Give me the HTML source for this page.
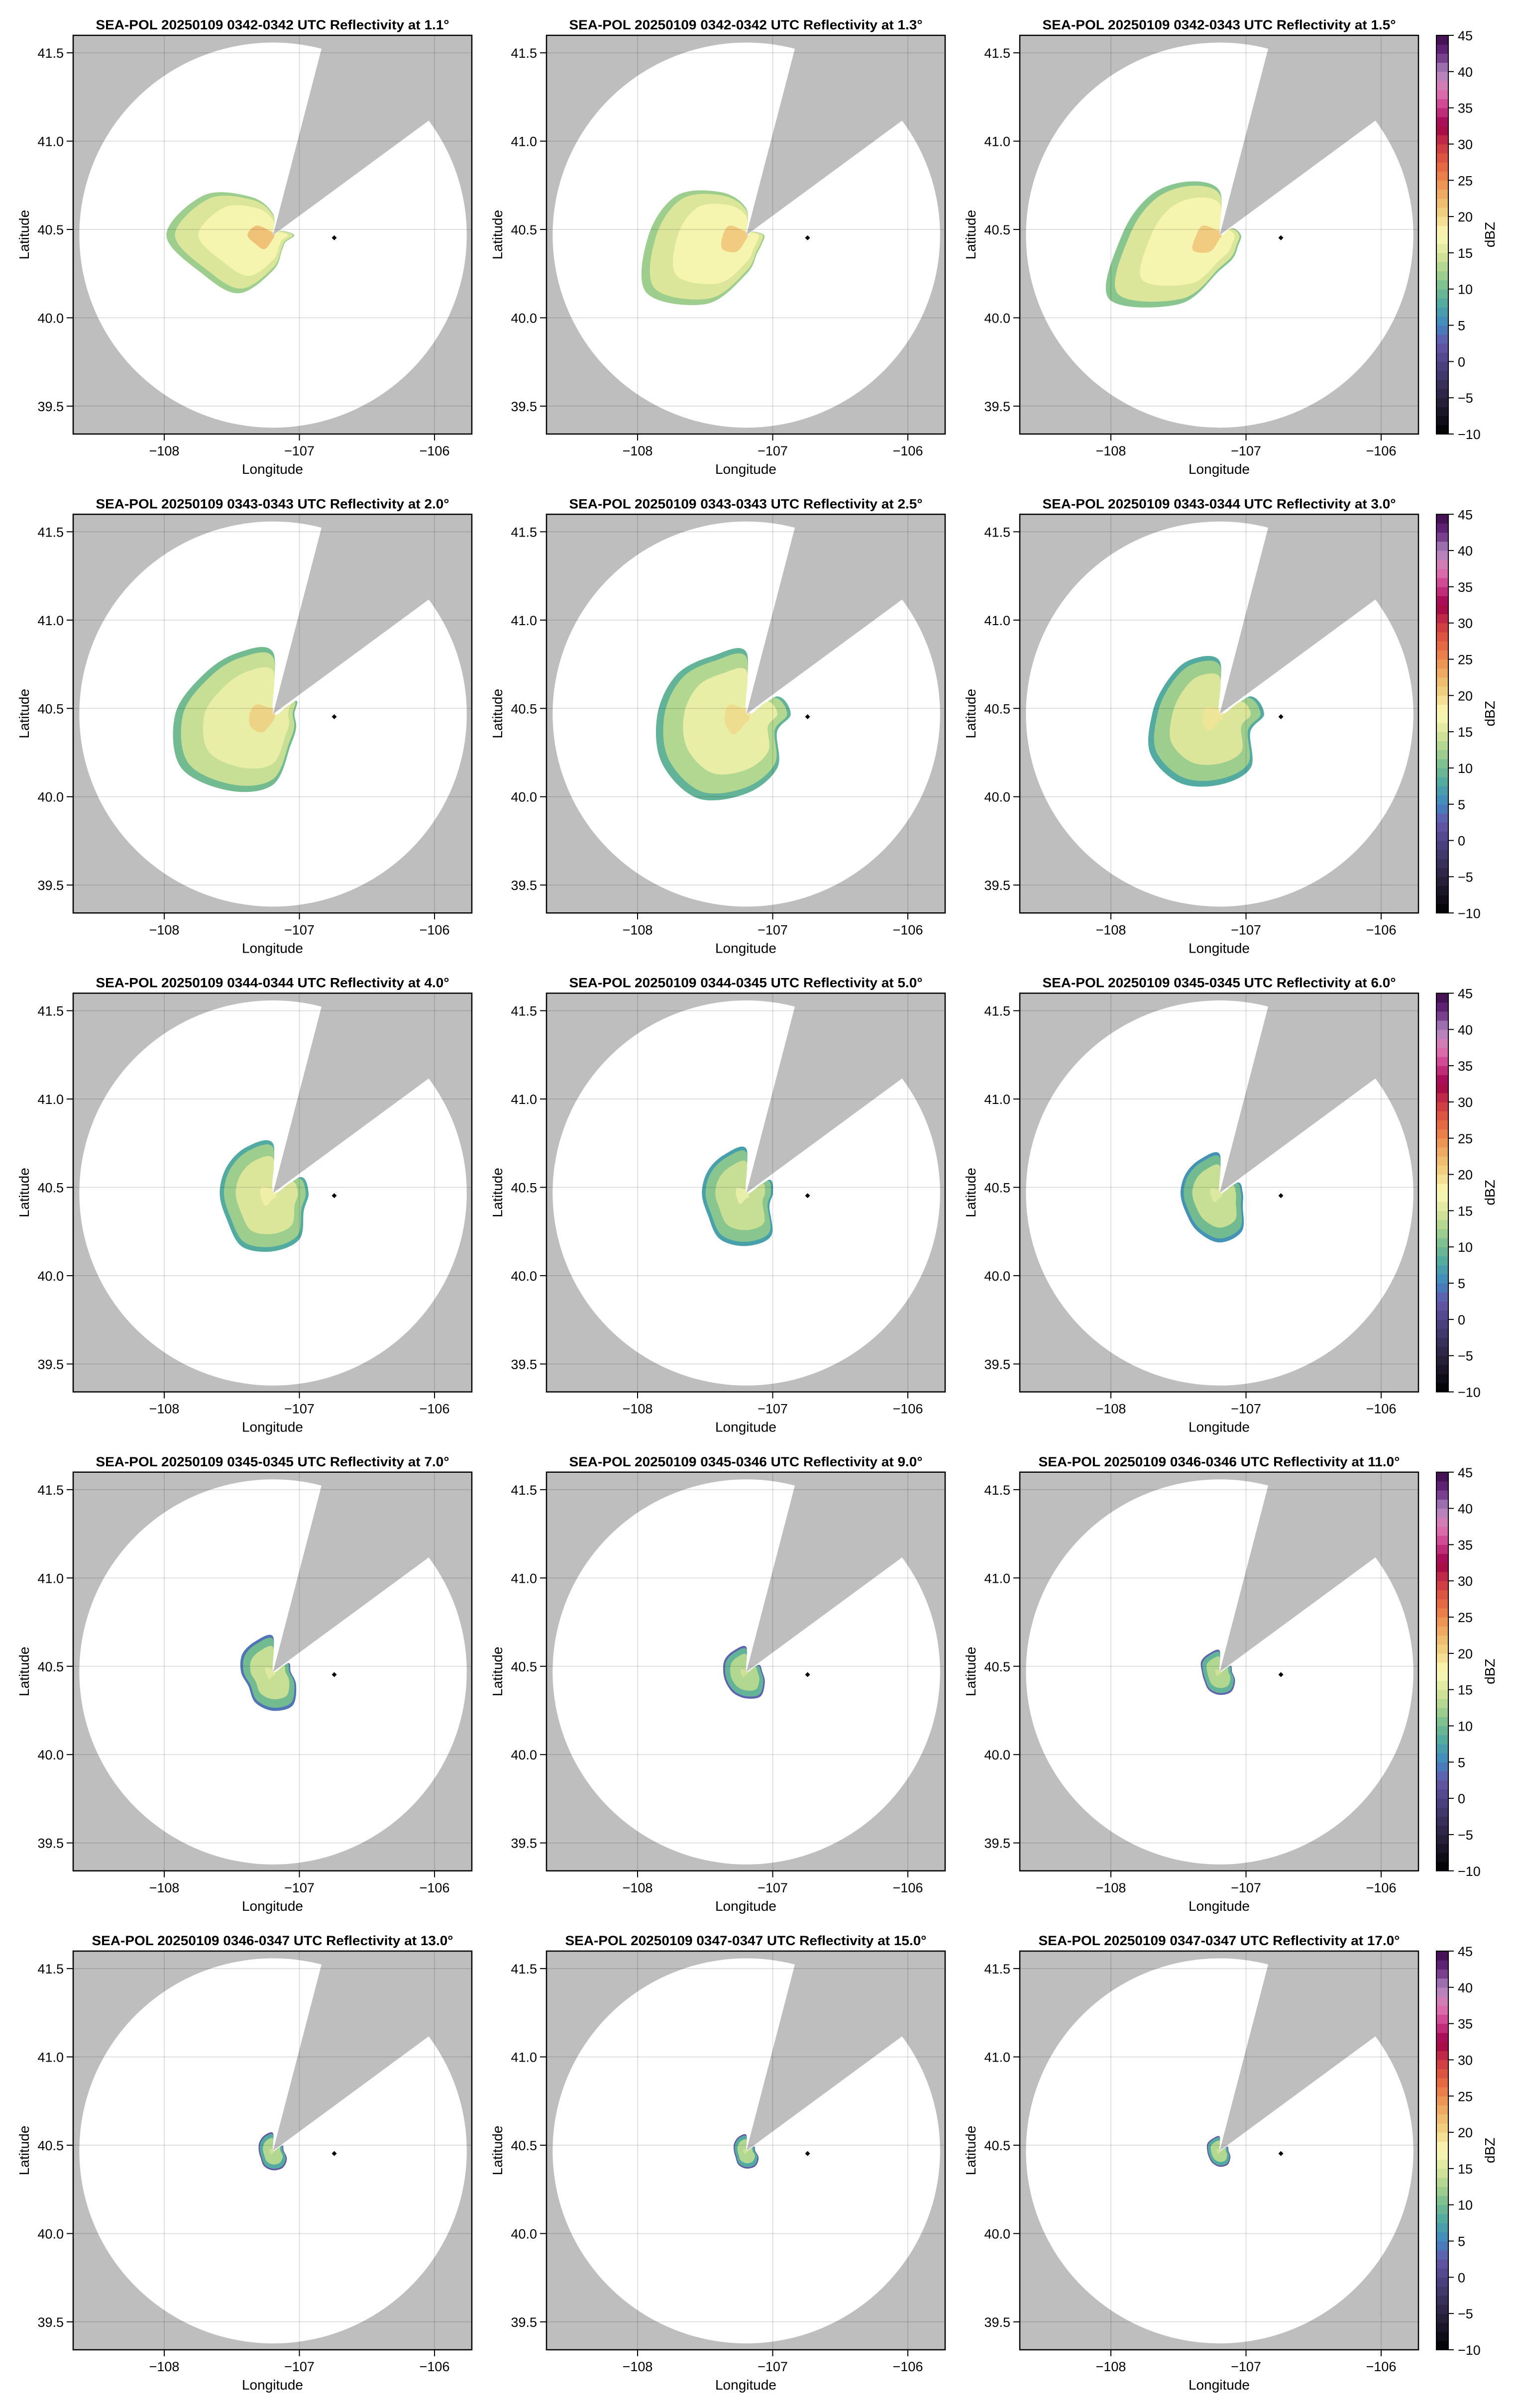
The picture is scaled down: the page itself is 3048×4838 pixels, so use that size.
<!DOCTYPE html>
<html><head><meta charset="utf-8"><title>SEA-POL reflectivity panels</title>
<style>
html,body{margin:0;padding:0;background:#fff;}
svg{display:block;font-family:"Liberation Sans",sans-serif;}
</style></head>
<body>
<svg id="fig" xmlns="http://www.w3.org/2000/svg" width="3048" height="4838" viewBox="0 0 3048 4838"></svg>
<script>
// ---- data ----
const elevations = ["1.1","1.3","1.5","2.0","2.5","3.0","4.0","5.0","6.0","7.0","9.0","11.0","13.0","15.0","17.0"];
const timeRanges = ["0342-0342","0342-0342","0342-0343","0343-0343","0343-0343","0343-0344","0344-0344","0344-0345","0345-0345","0345-0345","0345-0346","0346-0346","0346-0347","0347-0347","0347-0347"];
const echoAzimuths = [0,30,60,90,120,150,180,210,240,270,300,330];
const echoRadii = [
 [0.12,0,0.05,0.12,0.08,0.10,0.20,0.38,0.45,0.60,0.45,0.25],
 [0.15,0,0.04,0.10,0.10,0.12,0.22,0.45,0.65,0.55,0.45,0.28],
 [0.25,0,0.08,0.12,0.12,0.15,0.20,0.45,0.72,0.55,0.45,0.35],
 [0.35,0,0.15,0.12,0.15,0.20,0.40,0.50,0.60,0.55,0.45,0.40],
 [0.35,0,0.20,0.25,0.20,0.35,0.45,0.55,0.55,0.50,0.45,0.38],
 [0.30,0,0.20,0.25,0.20,0.35,0.40,0.45,0.45,0.38,0.35,0.35],
 [0.28,0,0.18,0.20,0.20,0.30,0.33,0.35,0.30,0.30,0.30,0.30],
 [0.25,0,0.15,0.15,0.15,0.28,0.30,0.30,0.25,0.25,0.25,0.25],
 [0.22,0,0.12,0.13,0.15,0.25,0.28,0.25,0.22,0.22,0.22,0.22],
 [0.20,0,0.10,0.10,0.15,0.22,0.22,0.20,0.16,0.18,0.20,0.20],
 [0.14,0,0.08,0.09,0.12,0.16,0.15,0.14,0.13,0.13,0.14,0.14],
 [0.12,0,0.07,0.07,0.10,0.13,0.13,0.12,0.10,0.10,0.12,0.12],
 [0.10,0,0.06,0.06,0.09,0.11,0.11,0.10,0.08,0.08,0.09,0.10],
 [0.09,0,0.05,0.05,0.08,0.10,0.10,0.09,0.07,0.07,0.08,0.09],
 [0.08,0,0.05,0.05,0.07,0.09,0.09,0.08,0.07,0.07,0.08,0.08]
];
const edgeDbz = [12,12,11,10,9,8,8,7,6,4,3,3,2,2,2];
const midDbz  = [15,15,15,14,13,12,12,11,10,10,9,9,8,8,8];
const coreDbz = [17,17,17,16,16,15,15,14,14,14,13,13,13,13,13];
const hotDbz  = [23,22,22,21,20,19,18,17,16,16,15,15,15,15,15];
const xTicks = [-108,-107,-106];
const yTicks = [39.5,40.0,40.5,41.0,41.5];
const cbTicks = [-10,-5,0,5,10,15,20,25,30,35,40,45];
const radarLon = -107.195, radarLat = 40.468;
const radarRangeDeg = 1.09;
const blockStartAz = 14.5, blockEndAz = 53.5;
const markerLon = -106.742, markerLat = 40.453;
const cmapStops = [[-10,"#000000"],[-5,"#2a2340"],[0,"#4f4488"],[2.5,"#6558aa"],[5,"#4086c2"],[7.5,"#4aa6a4"],[10,"#72bb90"],[12.5,"#a8d38e"],[15,"#dbe69a"],[17.5,"#fbf9b6"],[20,"#f2d686"],[22.5,"#eeb466"],[25,"#ec8a4c"],[27.5,"#e25e3e"],[30,"#cc3444"],[32.5,"#a0004a"],[35,"#cc3a8a"],[37.5,"#e07ab4"],[40,"#ad85c0"],[42.5,"#6a2880"],[45,"#3c0a4c"]];
// ---- layout ----
const NS="http://www.w3.org/2000/svg";
const svg=document.getElementById('fig');
const colLeft=[147,1098,2049], plotW=801, plotH=801, rowTop0=71, rowPitch=962.25;
const lonMin=-108.674, lonMax=-105.724, latMin=39.342, latMax=41.599;
const cosLat=0.7604;
function el(tag,attrs,parent){const e=document.createElementNS(NS,tag);for(const k in attrs)e.setAttribute(k,attrs[k]);(parent||svg).appendChild(e);return e;}
function hex2rgb(h){return[parseInt(h.substr(1,2),16),parseInt(h.substr(3,2),16),parseInt(h.substr(5,2),16)];}
function cmap(v){v=Math.max(-10,Math.min(45,v));for(let i=0;i<cmapStops.length-1;i++){const a=cmapStops[i],b=cmapStops[i+1];if(v<=b[0]){const t=(v-a[0])/(b[0]-a[0]);const ca=hex2rgb(a[1]),cb=hex2rgb(b[1]);return 'rgb('+ca.map((c,j)=>Math.round(c+(cb[j]-c)*t)).join(',')+')';}}return cmapStops[cmapStops.length-1][1];}
function smoothPath(pts){let d='';const n=pts.length;for(let i=0;i<n;i++){const p0=pts[(i-1+n)%n],p1=pts[i],p2=pts[(i+1)%n],p3=pts[(i+2)%n];if(i===0)d+='M'+p1[0].toFixed(1)+','+p1[1].toFixed(1);const c1=[p1[0]+(p2[0]-p0[0])/6,p1[1]+(p2[1]-p0[1])/6],c2=[p2[0]-(p3[0]-p1[0])/6,p2[1]-(p3[1]-p1[1])/6];d+='C'+c1[0].toFixed(1)+','+c1[1].toFixed(1)+' '+c2[0].toFixed(1)+','+c2[1].toFixed(1)+' '+p2[0].toFixed(1)+','+p2[1].toFixed(1);}return d+'Z';}
const defs=el('defs',{});
for(let p=0;p<15;p++){
  const row=Math.floor(p/3), col=p%3;
  const L=colLeft[col], T=rowTop0+row*rowPitch;
  const xS=lon=>L+(lon-lonMin)/(lonMax-lonMin)*plotW;
  const yS=lat=>T+(latMax-lat)/(latMax-latMin)*plotH;
  const polar=(az,r)=>{const a=az*Math.PI/180;return[xS(radarLon+r*Math.sin(a)/cosLat),yS(radarLat+r*Math.cos(a))];};
  const g=el('g',{});
  
  
  const cp=el('clipPath',{id:'clip'+p},defs);el('rect',{x:L,y:T,width:plotW,height:plotH},cp);
  const bg=el('rect',{x:L,y:T,width:plotW,height:plotH,fill:'#bebebe'},g);
  
  const inner=el('g',{'clip-path':'url(#clip'+p+')'},g);
  const cx=xS(radarLon), cy=yS(radarLat);
  const cov=el('ellipse',{cx:cx,cy:cy,rx:xS(radarLon+radarRangeDeg/cosLat)-cx,ry:cy-yS(radarLat+radarRangeDeg),fill:'#fff'},inner);
  
  // echoes
  const layers=[[1.0,edgeDbz[p]],[0.92,midDbz[p]],[0.7,coreDbz[p]],[0.2,hotDbz[p]]];
  layers.forEach((ly,k)=>{
    const pts=echoAzimuths.map((az,i)=>polar(az,echoRadii[p][i]*ly[0]*(k===3?(i>=7&&i<=10?1.2:0.5):1)));
    const e=el('path',{d:smoothPath(pts),fill:cmap(ly[1]),opacity:k===3?0.7:1},inner);
    
  });
  // blocked sector
  const w1=polar(blockStartAz,3),w2=polar(blockEndAz,3);
  const wedge=el('polygon',{points:cx+','+cy+' '+w1[0]+','+w1[1]+' '+w2[0]+','+w2[1],fill:'#bebebe'},inner);
  
  // grid
  xTicks.forEach(v=>{const gl=el('line',{x1:xS(v),x2:xS(v),y1:T,y2:T+plotH,stroke:'rgba(0,0,0,0.12)','stroke-width':2},inner);});
  yTicks.forEach(v=>{const gl=el('line',{x1:L,x2:L+plotW,y1:yS(v),y2:yS(v),stroke:'rgba(0,0,0,0.12)','stroke-width':2},inner);});
  const mk=el('polygon',{points:[[0,-5],[5,0],[0,5],[-5,0]].map(q=>(xS(markerLon)+q[0])+','+(yS(markerLat)+q[1])).join(' '),fill:'#000'},inner);
  
  const fr=el('rect',{x:L,y:T,width:plotW,height:plotH,fill:'none',stroke:'#000','stroke-width':2.5},g);
  
  // ticks
  xTicks.forEach(v=>{el('line',{x1:xS(v),x2:xS(v),y1:T+plotH,y2:T+plotH+13,stroke:'#000','stroke-width':2},g);
    const t=el('text',{x:xS(v),y:T+plotH+43,'font-size':27,'text-anchor':'middle'},g);t.textContent='\u2212'+Math.abs(v);
    });
  yTicks.forEach(v=>{el('line',{x1:L-13,x2:L,y1:yS(v),y2:yS(v),stroke:'#000','stroke-width':2},g);
    const t=el('text',{x:L-19,y:yS(v)+10,'font-size':27,'text-anchor':'end'},g);t.textContent=v.toFixed(1);
    });
  const xl=el('text',{x:L+plotW/2,y:T+plotH+80,'font-size':28,'text-anchor':'middle'},g);xl.textContent='Longitude';
  
  const yl=el('text',{x:0,y:0,'font-size':28,'text-anchor':'middle',transform:'translate('+(L-89)+','+(T+plotH/2)+') rotate(-90)'},g);yl.textContent='Latitude';
  
  const ti=el('text',{x:L+plotW/2,y:T-12,'font-size':27,'font-weight':'bold','text-anchor':'middle',textLength:(elevations[p].length>3?726:710),lengthAdjust:'spacingAndGlyphs'},g);
  ti.textContent='SEA-POL 20250109 '+timeRanges[p]+' UTC Reflectivity at '+elevations[p]+'\u00b0';
  
  // colorbar
  if(col===2){
    const cb=el('g',{},g);
    const cbx=2886,cbw=24,n=44;
    for(let i=0;i<n;i++){const v=-10+(i+0.5)*55/n;const y0=T+plotH-(i+1)*plotH/n;
      const r=el('rect',{x:cbx,y:y0,width:cbw,height:plotH/n+0.6,fill:cmap(v)},cb);}
    el('rect',{x:cbx,y:T,width:cbw,height:plotH,fill:'none',stroke:'#000','stroke-width':2},cb);
    cbTicks.forEach(v=>{const y=T+plotH-(v+10)/55*plotH;el('line',{x1:cbx+cbw,x2:cbx+cbw+11,y1:y,y2:y,stroke:'#000','stroke-width':2},cb);
      const t=el('text',{x:cbx+cbw+19,y:y+10,'font-size':27},cb);t.textContent=(v<0?'\u2212'+Math.abs(v):String(v));
      });
    const ct=el('text',{x:0,y:0,'font-size':28,'text-anchor':'middle',transform:'translate(3003,'+(T+plotH/2)+') rotate(-90)'},cb);ct.textContent='dBZ';
    
  }
}
</script>
</body></html>
